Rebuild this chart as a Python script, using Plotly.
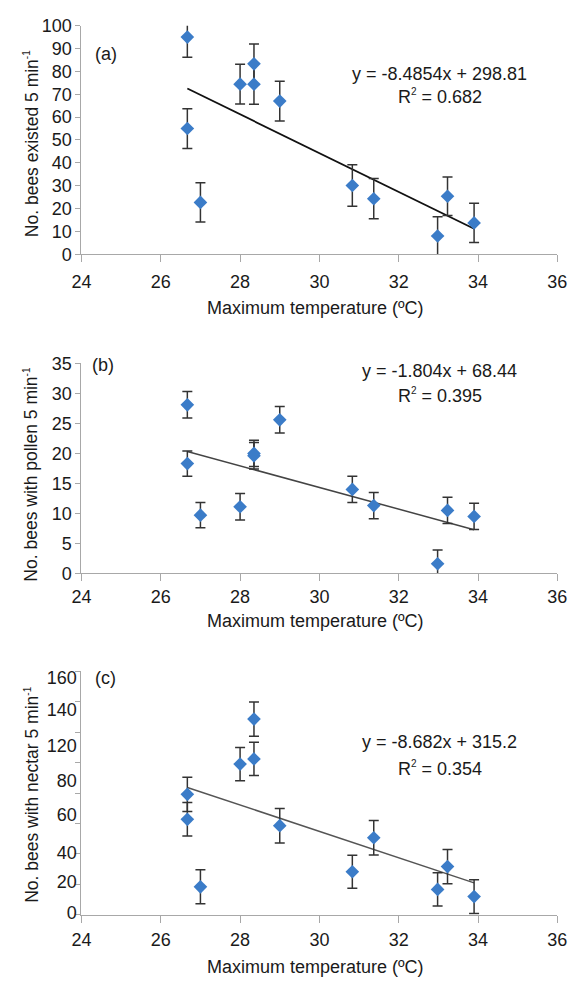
import plotly.graph_objects as go

# ---------------- data ----------------
temp = [26.67, 26.67, 27.0, 28.0, 28.35, 28.35, 29.0, 30.83, 31.37, 32.98, 33.23, 33.9]

bees_existed = [95.0, 55.0, 22.7, 74.4, 83.3, 74.4, 67.0, 30.1, 24.3, 8.0, 25.4, 13.7]
err_existed = [8.8, 8.7, 8.6, 8.7, 8.7, 8.8, 8.7, 9.1, 8.8, 8.4, 8.4, 8.6]

bees_pollen = [28.1, 18.3, 9.7, 11.1, 20.0, 19.6, 25.6, 14.0, 11.3, 1.6, 10.5, 9.5]
err_pollen = [2.2, 2.1, 2.1, 2.2, 2.2, 2.2, 2.2, 2.2, 2.2, 2.3, 2.2, 2.2]

bees_nectar = [79.1, 62.7, 18.3, 99.0, 128.6, 102.4, 58.5, 28.2, 50.6, 16.6, 31.6, 11.9]
err_nectar = [11.3, 11.0, 11.2, 10.9, 11.3, 10.9, 11.3, 10.9, 11.3, 10.9, 11.2, 11.1]

# regression (slope, intercept, R2)
fit_existed = (-8.4854, 298.81, 0.682)
fit_pollen = (-1.804, 68.44, 0.395)
fit_nectar = (-8.682, 315.2, 0.354)

SUP = "<sup><span style='font-size:10px'>{}</span></sup>"
eq_existed = ["y = -8.4854x + 298.81", "R" + SUP.format("2") + " = 0.682"]
eq_pollen = ["y = -1.804x + 68.44", "R" + SUP.format("2") + " = 0.395"]
eq_nectar = ["y = -8.682x + 315.2", "R" + SUP.format("2") + " = 0.354"]

y_titles = ["No. bees existed 5 min" + SUP.format("-1"),
            "No. bees with pollen 5 min" + SUP.format("-1"),
            "No. bees with nectar 5 min" + SUP.format("-1")]
x_title = "Maximum temperature (ºC)"
panel_labels = ["(a)", "(b)", "(c)"]

x_ticks = [24, 26, 28, 30, 32, 34, 36]
y_ticks_a = list(range(0, 101, 10))
y_ticks_b = list(range(0, 36, 5))
y_ticks_c = list(range(0, 161, 20))
# panel (c) tick labels are printed slightly off the tick marks in the original
y_label_pos_c = [1.5, 21.5, 40.6, 65.9, 88.4, 111.4, 134.6, 155.6]
y_label_text_c = ["0", "20", "40", "60", "80", "120", "140", "160"]

# ---------------- styling ----------------
W, H = 578, 990
FONT = "Liberation Sans, Arial, sans-serif"
MARKER_COLOR = "#3b7cc8"
AXIS_COLOR = "#a8a8a8"
TXT = "#1a1a1a"

x0_px, x1_px = 74, 567
panels = [
    # (top px, bottom px)
    (16.0, 249.3),
    (360.7, 575.0),
    (675.0, 923.3),
]

def ydom(top, bottom):
    return [1 - bottom / H, 1 - top / H]

fig = go.Figure()

data_sets = [
    (bees_existed, err_existed, fit_existed, "x", "y", "#111111", 1.8),
    (bees_pollen, err_pollen, fit_pollen, "x2", "y2", "#444444", 1.5),
    (bees_nectar, err_nectar, fit_nectar, "x3", "y3", "#555555", 1.5),
]

xmin, xmax = min(temp), max(temp)
for vals, errs, fit, xa, ya, lc, lw in data_sets:
    slope, icpt, _ = fit
    fig.add_trace(go.Scatter(
        x=[xmin, xmax], y=[slope * xmin + icpt, slope * xmax + icpt],
        mode="lines", line=dict(color=lc, width=lw),
        xaxis=xa, yaxis=ya, showlegend=False, hoverinfo="skip"))
    fig.add_trace(go.Scatter(
        x=temp, y=vals, mode="markers",
        marker=dict(symbol="diamond", size=10.5, color=MARKER_COLOR, line=dict(width=0)),
        error_y=dict(type="data", array=errs, visible=True, color="#333333",
                     thickness=1.5, width=5),
        xaxis=xa, yaxis=ya, showlegend=False))

axis_common = dict(
    showline=True, linecolor=AXIS_COLOR, linewidth=1.2,
    ticks="outside", tickcolor=AXIS_COLOR, tickwidth=1.2,
    showgrid=False, zeroline=False,
    tickfont=dict(family=FONT, size=18, color=TXT),
)

layout = dict(
    width=W, height=H,
    margin=dict(l=0, r=0, t=0, b=0),
    paper_bgcolor="white", plot_bgcolor="white",
    font=dict(family=FONT, size=18, color=TXT),
    showlegend=False,
)

x_dom = [x0_px / W, x1_px / W]
for i, (top, bottom) in enumerate(panels):
    suffix = "" if i == 0 else str(i + 1)
    layout["xaxis" + suffix] = dict(
        axis_common, domain=x_dom, range=[24, 36], tickvals=x_ticks,
        ticklen=7, anchor="y" + suffix, ticklabelstandoff=[4, 0, 2][i])
    layout["yaxis" + suffix] = dict(
        axis_common, domain=ydom(top, bottom), anchor="x" + suffix, ticklen=5)

layout["yaxis"].update(range=[0, 100], tickvals=y_ticks_a)
layout["yaxis2"].update(range=[0, 35], tickvals=y_ticks_b)
layout["yaxis3"].update(
    range=[0, 160], tickvals=y_label_pos_c, ticktext=y_label_text_c, ticks="",
    minor=dict(tickvals=y_ticks_c, ticks="outside", ticklen=5,
               tickcolor=AXIS_COLOR, tickwidth=1.2))

fig.update_layout(**layout)

ann = []
# panel letters
for lab, xpx, ypx in zip(panel_labels, [86, 83, 86], [45, 362.5, 682]):
    ann.append(dict(text=lab, x=xpx / W, y=1 - ypx / H, xref="paper", yref="paper",
                    xanchor="left", yanchor="middle", showarrow=False,
                    font=dict(family=FONT, size=18, color=TXT)))
# equations
for lines, y1, y2 in [(eq_existed, 65, 88), (eq_pollen, 368.3, 393.3), (eq_nectar, 746.7, 774)]:
    for t, ypx in zip(lines, (y1, y2)):
        ann.append(dict(text=t, x=445 / W, y=1 - ypx / H, xref="paper", yref="paper",
                        xanchor="center", yanchor="middle", showarrow=False,
                        font=dict(family=FONT, size=18, color=TXT)))
# y titles
for t, ypx in zip(y_titles, [136.7, 474, 800.8]):
    ann.append(dict(text=t, x=22 / W, y=1 - ypx / H, xref="paper", yref="paper",
                    xanchor="center", yanchor="middle", textangle=-90, showarrow=False,
                    font=dict(family=FONT, size=17.5, color=TXT)))
# x titles
for ypx in [304, 624, 976.5]:
    ann.append(dict(text=x_title, x=316 / W, y=1 - ypx / H,
                    xref="paper", yref="paper", xanchor="center", yanchor="middle",
                    showarrow=False, font=dict(family=FONT, size=18, color=TXT)))

fig.update_layout(annotations=ann)
fig.write_html("out.html",
               config={"displayModeBar": False},
               post_script="document.body.style.margin='0';document.body.style.overflow='hidden';")
